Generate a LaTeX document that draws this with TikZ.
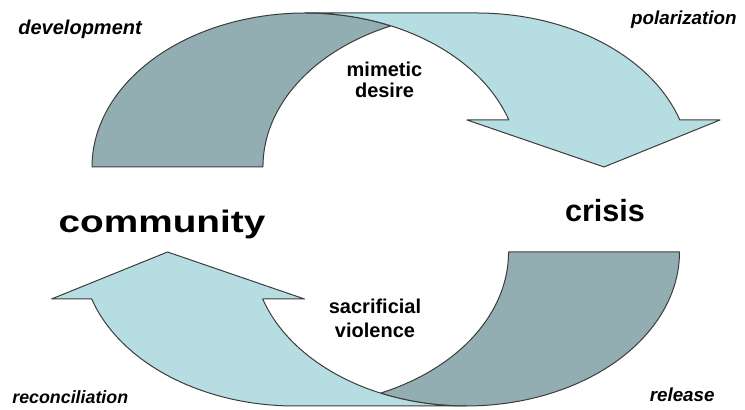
\documentclass[tikz,border=0pt]{standalone}
\usepackage{fontspec}
\setmainfont{Liberation Sans}
\definecolor{bandback}{RGB}{146,174,178}
\definecolor{bandfront}{RGB}{182,221,225}
\definecolor{bandline}{RGB}{60,60,60}
\begin{document}
\begin{tikzpicture}[x=0.5pt,y=0.5pt,
 back/.style={fill=bandback,draw=bandline,line width=0.5pt,line join=round},
 front/.style={fill=bandfront,draw=bandline,line width=0.5pt,line join=round},
 stage/.style={inner sep=0pt,anchor=base,font=\fontsize{9.4}{11}\selectfont\bfseries\itshape},
 force/.style={inner sep=0pt,align=center,font=\fontsize{10}{10.5}\selectfont\bfseries},
 pole/.style={inner sep=0pt,anchor=base,font=\fontsize{15.3}{18}\selectfont\bfseries}]
 \useasboundingbox (0,0) rectangle (745,410);

 % upper arrow, community -> crisis
 \draw[back] (92,243) arc[start angle=180,end angle=66.4,x radius=213.5,y radius=154]
   arc[start angle=113.6,end angle=180,x radius=213.5,y radius=154] -- cycle;
 \draw[front] (604,243) -- (467,290) -- (508.8,290)
   arc[start angle=17.77,end angle=90,x radius=213.5,y radius=154] -- (476.5,397)
   arc[start angle=90,end angle=17.77,x radius=213.5,y radius=154] -- (720,290) -- cycle;

 % lower arrow, crisis -> community (same shape turned round)
 \begin{scope}[rotate around={180:(385.75,200.5)}]
 \draw[back] (92,243) arc[start angle=180,end angle=66.4,x radius=213.5,y radius=154]
   arc[start angle=113.6,end angle=180,x radius=213.5,y radius=154] -- cycle;
 \draw[front] (604,243) -- (467,290) -- (508.8,290)
   arc[start angle=17.77,end angle=90,x radius=213.5,y radius=154] -- (476.5,397)
   arc[start angle=90,end angle=17.77,x radius=213.5,y radius=154] -- (720,290) -- cycle;
 \end{scope}

 \node[stage,anchor=base west,font=\fontsize{10}{11}\selectfont\bfseries\itshape] (devel) at (18,375) {development};
 \node[stage,anchor=base east] (polar) at (737,385) {polarization};
 \node[stage,anchor=base west,font=\fontsize{8.9}{11}\selectfont\bfseries\itshape] (recon) at (12,6) {reconciliation};
 \node[stage,anchor=base east] (relea) at (715,8) {release};
 \node[force] (mimet) at (384.5,330) {mimetic\\desire};
 \node[force,font=\fontsize{10}{12}\selectfont\bfseries] (sacri) at (375,92) {sacrificial\\violence};
 \node[pole,font=\fontsize{15.5}{18}\selectfont\bfseries,xscale=1.25] (commu) at (162,177) {community};
 \node[pole] (crisi) at (605,188) {crisis};
\end{tikzpicture}
\end{document}
